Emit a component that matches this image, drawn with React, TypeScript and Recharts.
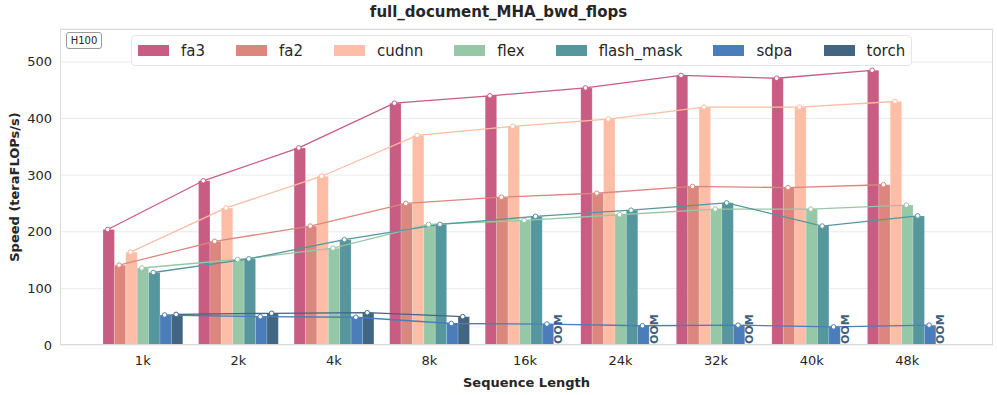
import React from 'react';
import { ComposedChart, Bar, Line, Scatter, XAxis, YAxis, CartesianGrid } from 'recharts';

const categories = ['1k', '2k', '4k', '8k', '16k', '24k', '32k', '40k', '48k'];
const fa3 = [204, 290, 348, 427, 440, 454, 476, 471, 485];
const fa2 = [141, 183, 210, 250, 261, 268, 280, 278, 283];
const cudnn = [164, 242, 298, 370, 386, 399, 420, 420, 430];
const flex = [136, 151, 171, 213, 220, 230, 240, 240, 247];
const flashMask = [128, 152, 186, 213, 227, 238, 251, 210, 228];
const sdpa = [53, 50, 49, 38, 37, 34, 35, 32, 35];
const torch: (number | null)[] = [54, 56, 57, 50, null, null, null, null, null];
const yTicks = [0, 100, 200, 300, 400, 500];

const seriesNames = ['fa3', 'fa2', 'cudnn', 'flex', 'flash_mask', 'sdpa', 'torch'];
const seriesValues = [fa3, fa2, cudnn, flex, flashMask, sdpa, torch];
const colors = ['#c85c82', '#db877d', '#fdbda6', '#96c7a6', '#55979d', '#4a7db9', '#426682'];

// layout
const W = 997;
const H = 395;
const PLOT_L = 60;
const PLOT_R = 993;
const PLOT_T = 29;
const PLOT_B = 345;
const PAD_L = 35;
const PAD_R = 38;
const BAR = 11.4;
const BAND = (PLOT_R - PLOT_L - PAD_L - PAD_R) / categories.length;
const GROUP_OFF = Math.floor((BAND - BAR * seriesNames.length) / 2);
const seriesOffset = (k: number) => (GROUP_OFF + (k + 0.5) * BAR - BAND / 2) / BAND;

const data = categories.map((c, i) => {
  const row: any = { label: c };
  seriesNames.forEach((n, k) => {
    row[n] = seriesValues[k][i];
  });
  return row;
});

const lineData = seriesValues.map((vals, k) =>
  vals
    .map((v, i) => (v == null ? null : { x: i + seriesOffset(k), y: v }))
    .filter((p) => p != null)
);

const oomData = torch
  .map((v, i) => (v == null ? { x: i + seriesOffset(6), y: 0 } : null))
  .filter((p) => p != null);

const font = '"DejaVu Sans", sans-serif';

const OomShape = (props: any) => {
  const { cx, cy } = props;
  if (cx == null || cy == null) return null;
  return (
    <text
      x={cx}
      y={cy - 1}
      transform={`rotate(-90, ${cx}, ${cy - 1})`}
      dy="0.36em"
      textAnchor="start"
      fontSize={11}
      fontWeight="bold"
      fill="#3f5f7d"
      fontFamily={font}
    >
      OOM
    </text>
  );
};

const Dot = (color: string) => (props: any) => {
  const { cx, cy } = props;
  if (cx == null || cy == null) return null;
  return <circle key={`${cx}-${cy}`} cx={cx} cy={cy} r={2.3} fill="#fff" stroke={color} strokeWidth={1} />;
};

export default function App() {
  return (
    <div style={{ position: 'absolute', left: 0, top: 0, width: W, height: H, background: '#fff', fontFamily: font }}>
      <div
        style={{
          position: 'absolute',
          left: 0,
          top: 2,
          width: W,
          textAlign: 'center',
          fontSize: 15,
          fontWeight: 'bold',
          color: '#262626',
          lineHeight: '20px',
        }}
      >
        full_document_MHA_bwd_flops
      </div>
      <ComposedChart
        width={W}
        height={H}
        data={data}
        margin={{ top: PLOT_T, right: W - PLOT_R, bottom: 0, left: 0 }}
        barGap={0}
        style={{ position: 'absolute', left: 0, top: 0 }}
      >
        <CartesianGrid vertical={false} stroke="#ebebeb" strokeWidth={1} />
        <XAxis
          dataKey="label"
          type="category"
          height={H - PLOT_B}
          padding={{ left: PAD_L, right: PAD_R }}
          axisLine={false}
          tickLine={false}
          tickMargin={5}
          tick={{ fontSize: 13, fill: '#262626', fontFamily: font }}
          interval={0}
          label={{
            value: 'Sequence Length',
            position: 'insideBottom',
            offset: 8,
            style: { fontSize: 13, fontWeight: 'bold', fill: '#262626', fontFamily: font },
          }}
        />
        <XAxis
          xAxisId="n"
          dataKey="x"
          type="number"
          domain={[-0.5, categories.length - 0.5]}
          padding={{ left: PAD_L, right: PAD_R }}
          allowDataOverflow
          hide
        />
        <YAxis
          width={PLOT_L}
          domain={[0, 558]}
          ticks={yTicks}
          allowDataOverflow
          axisLine={false}
          tickLine={false}
          tick={{ fontSize: 13, fill: '#262626', fontFamily: font }}
        />
        {seriesNames.map((n, k) => (
          <Bar
            key={n}
            dataKey={n}
            fill={colors[k]}
            barSize={BAR}
            stroke="#ffffff"
            strokeOpacity={0.35}
            strokeWidth={0.5}
            isAnimationActive={false}
          />
        ))}
        {seriesNames.map((n, k) => (
          <Line
            key={`l-${n}`}
            xAxisId="n"
            data={lineData[k] as any[]}
            dataKey="y"
            stroke={colors[k]}
            strokeWidth={1.3}
            dot={Dot(colors[k])}
            activeDot={false}
            isAnimationActive={false}
          />
        ))}
        <Scatter
          xAxisId="n"
          data={oomData as any[]}
          dataKey="y"
          shape={OomShape}
          isAnimationActive={false}
        />
      </ComposedChart>
      {/* plot frame */}
      <div
        style={{
          position: 'absolute',
          left: PLOT_L,
          top: PLOT_T,
          width: PLOT_R - PLOT_L,
          height: PLOT_B - PLOT_T,
          boxSizing: 'border-box',
          border: '1.2px solid #d9d9d9',
          pointerEvents: 'none',
        }}
      />
      {/* y label */}
      <div
        style={{
          position: 'absolute',
          left: 14,
          top: (PLOT_T + PLOT_B) / 2,
          transform: 'translate(-50%, -50%) rotate(-90deg)',
          whiteSpace: 'nowrap',
          fontSize: 13,
          fontWeight: 'bold',
          color: '#262626',
        }}
      >
        Speed (teraFLOPs/s)
      </div>
      {/* H100 tag */}
      <div
        style={{
          position: 'absolute',
          left: 66,
          top: 32,
          width: 36,
          height: 17,
          boxSizing: 'border-box',
          border: '1px solid #999',
          borderRadius: 3,
          background: '#fff',
          fontSize: 10,
          lineHeight: '15px',
          textAlign: 'center',
          color: '#262626',
        }}
      >
        H100
      </div>
      {/* legend */}
      <div
        style={{
          position: 'absolute',
          left: 131,
          top: 35,
          height: 31,
          boxSizing: 'border-box',
          border: '1px solid #e3e6e8',
          borderRadius: 4,
          background: 'rgba(255,255,255,0.9)',
          display: 'flex',
          alignItems: 'center',
          padding: '0 6px 0 6px',
          fontSize: 15,
          color: '#262626',
        }}
      >
        {seriesNames.map((n, k) => (
          <div
            key={n}
            style={{ display: 'flex', alignItems: 'center', marginRight: k === seriesNames.length - 1 ? 0 : 31 }}
          >
            <div style={{ width: 31, height: 11, background: colors[k], marginRight: 12 }} />
            <span style={{ lineHeight: '18px' }}>{n}</span>
          </div>
        ))}
      </div>
    </div>
  );
}
